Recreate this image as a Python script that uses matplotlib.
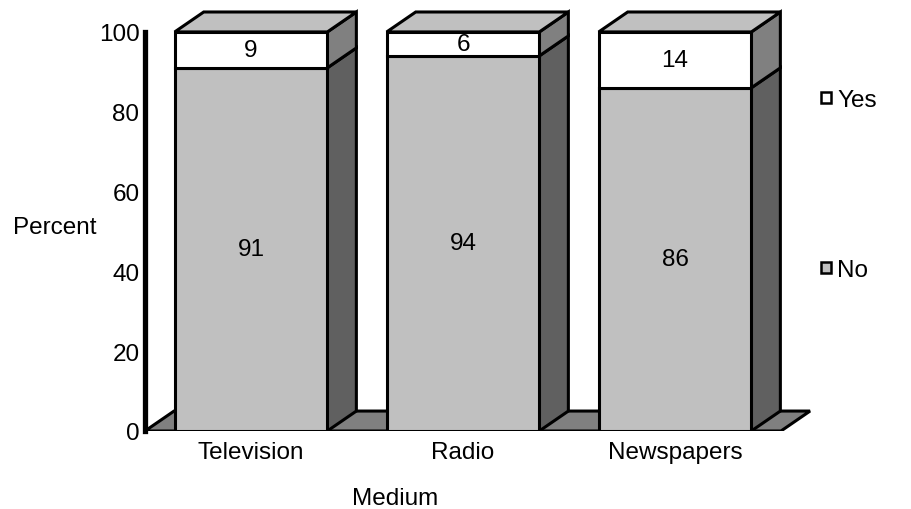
import matplotlib
matplotlib.use("Agg")
import matplotlib.pyplot as plt
from matplotlib.patches import Polygon, Patch

plt.rcParams['font.family'] = ['Liberation Sans', 'DejaVu Sans']
plt.rcParams['font.size'] = 17.5

# data
categories = ["Television", "Radio", "Newspapers"]
no_vals = [91, 94, 86]
yes_vals = [9, 6, 14]

# 3d look
bar_w = 0.72
dx, dy = 0.137, 5.0   # depth offset in data units
lw = 2.2

fig = plt.figure(figsize=(9.11, 5.10), dpi=100)
ax = fig.add_axes([145 / 911, (510 - 432) / 510, 678.4 / 911, 423 / 510])
ax.set_xlim(-0.5, 2.7)
ax.set_ylim(0, 106)


def poly(pts, fc, z):
    ax.add_patch(Polygon(pts, closed=True, facecolor=fc, edgecolor="black",
                         linewidth=lw, joinstyle="miter", zorder=z))


# floor
x_lo, x_hi = -0.5, len(categories) - 0.5
poly([(x_lo, 0), (x_hi, 0), (x_hi + dx, dy), (x_lo + dx, dy)], "#808080", 1)

for i, (n, y) in enumerate(zip(no_vals, yes_vals)):
    x0, x1 = i - bar_w / 2, i + bar_w / 2
    for b, t, front, side in [(0, n, "#c0c0c0", "#606060"), (n, n + y, "white", "#808080")]:
        poly([(x1, b), (x1 + dx, b + dy), (x1 + dx, t + dy), (x1, t)], side, 2)
        poly([(x0, b), (x1, b), (x1, t), (x0, t)], front, 3)
        ax.text(i, (b + t) / 2, str(t - b), ha="center", va="center", zorder=5)
    top = n + y
    poly([(x0, top), (x1, top), (x1 + dx, top + dy), (x0 + dx, top + dy)], "#c0c0c0", 2)

# axes styling
for s in ["top", "right", "bottom"]:
    ax.spines[s].set_visible(False)
ax.spines["left"].set_bounds(0, 100)
ax.spines["left"].set_linewidth(3.8)
ax.spines["left"].set_zorder(6)
ax.set_yticks(range(0, 101, 20))
ax.set_xticks(range(len(categories)))
ax.set_xticklabels(categories)
ax.tick_params(axis="y", length=0, pad=4)
ax.tick_params(axis="x", length=0, pad=7)

ax.set_xlabel("Medium", va="center")
ax.xaxis.set_label_coords(0.3685, -0.158)
ax.set_ylabel("Percent", rotation=0, ha="center", va="center")
ax.yaxis.set_label_coords(-0.133, 0.482)

handles = [Patch(facecolor="white", edgecolor="black", linewidth=1.8),
           Patch(facecolor="#c0c0c0", edgecolor="black", linewidth=1.8)]
fig.legend(handles, ["Yes", "No"], loc="upper left", bbox_to_anchor=(809 / 911, 1 - 78 / 510),
           frameon=False, handlelength=0.42, handleheight=0.3, handletextpad=0.25,
           labelspacing=6.1, borderpad=0)

fig.savefig("out.png", dpi=100)
